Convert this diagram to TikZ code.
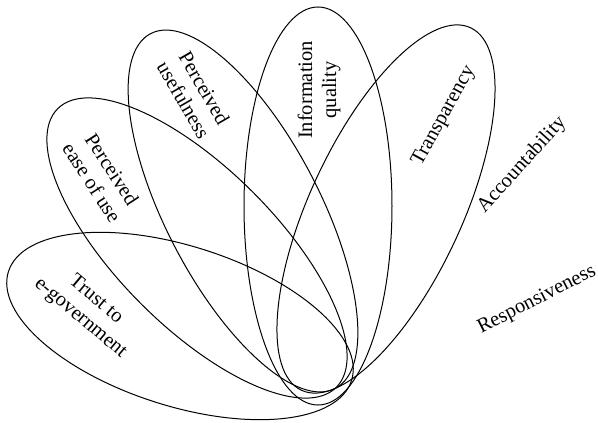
\documentclass[tikz,border=0pt]{standalone}
\usepackage{fontspec}
\setmainfont{Liberation Serif}
\usetikzlibrary{shapes.geometric}
\begin{document}
\begin{tikzpicture}[x=1pt,y=-1pt,
  petal/.style 2 args={draw, ellipse, line width=1pt, inner sep=0pt,
    minimum width=#1pt, minimum height=#2pt},
  factor/.style={font=\fontsize{20.5}{24}\selectfont, align=center, inner sep=0pt}]
  \useasboundingbox (0,0) rectangle (598,423);

  % petals of the fan, all meeting near the bottom
  \node[petal={360}{160}, rotate=-17.6] (trust) at (180,326) {};
  \node[petal={394}{158}, rotate=-45]   (ease)  at (197,248) {};
  \node[petal={400}{154}, rotate=-62.5] (useful) at (243,211) {};
  \node[petal={398}{148}, rotate=90]    (info)  at (318,206) {};
  \node[petal={400}{152}, rotate=65]    (transp) at (386,209) {};

  % labels
  \node[factor, rotate=-40] (ltrust) at (88,309) {Trust to\\e-government};
  \node[factor, rotate=-57] (lease) at (102,176) {Perceived\\ease of use};
  \node[factor, rotate=-60] (luseful) at (194,94) {Perceived\\usefulness};
  \node[factor, rotate=90] (linfo) at (319,90) {Information\\quality};
  \node[factor, rotate=61] (ltransp) at (444,116) {Transparency};
  \node[factor, rotate=48] (laccount) at (522,165) {Accountability};
  \node[factor, rotate=27] (lrespons) at (537,300) {Responsiveness};
\end{tikzpicture}
\end{document}
